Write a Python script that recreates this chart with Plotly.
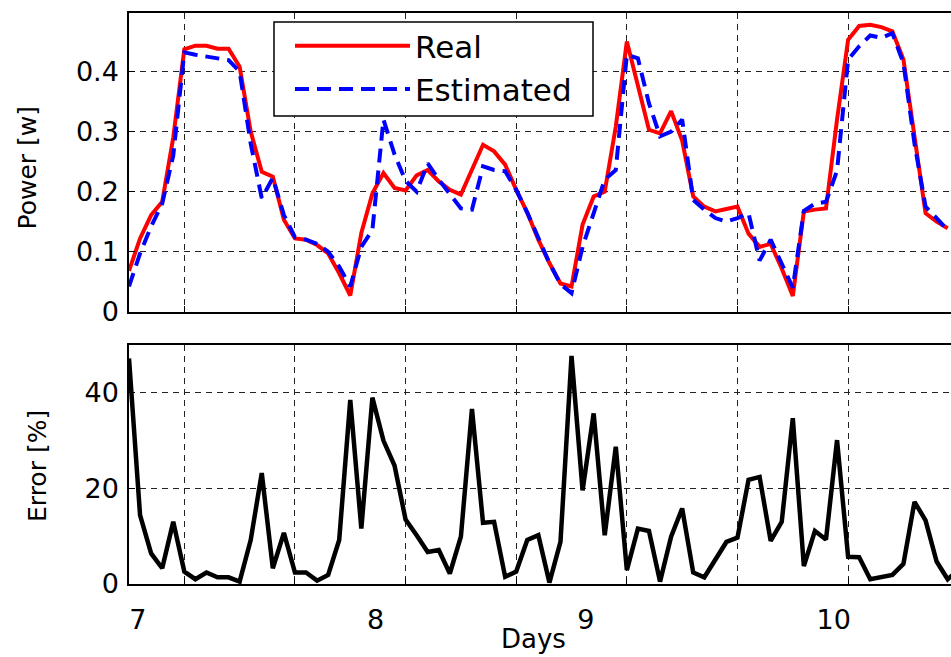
import plotly.graph_objects as go
from plotly.subplots import make_subplots

# ---- data ----
real = [0.068, 0.122, 0.161, 0.183, 0.29, 0.437, 0.443, 0.443, 0.438, 0.438,
        0.408, 0.30, 0.233, 0.225, 0.153, 0.122, 0.12, 0.111, 0.097, 0.064,
        0.027, 0.131, 0.197, 0.231, 0.206, 0.202, 0.227, 0.236, 0.217, 0.203,
        0.195, 0.238, 0.278, 0.267, 0.245, 0.203, 0.165, 0.12, 0.081, 0.047,
        0.042, 0.145, 0.192, 0.2, 0.308, 0.45, 0.375, 0.303, 0.297, 0.334,
        0.285, 0.192, 0.175, 0.167, 0.171, 0.175, 0.13, 0.108, 0.113, 0.072,
        0.026, 0.167, 0.17, 0.172, 0.32, 0.453, 0.476, 0.478, 0.474, 0.467,
        0.42, 0.292, 0.164, 0.15, 0.139]

estimated = [0.042, 0.097, 0.142, 0.18, 0.26, 0.432, 0.428, 0.425, 0.422, 0.419,
             0.40, 0.28, 0.189, 0.223, 0.161, 0.124, 0.12, 0.113, 0.1, 0.075,
             0.042, 0.108, 0.136, 0.32, 0.262, 0.218, 0.20, 0.247, 0.22, 0.195,
             0.172, 0.17, 0.242, 0.236, 0.234, 0.203, 0.165, 0.123, 0.081, 0.046,
             0.031, 0.108, 0.164, 0.22, 0.236, 0.428, 0.422, 0.347, 0.292, 0.30,
             0.32, 0.186, 0.17, 0.156, 0.15, 0.156, 0.164, 0.085, 0.12, 0.08,
             0.04, 0.168, 0.18, 0.183, 0.235, 0.42, 0.442, 0.46, 0.456, 0.464,
             0.414, 0.28, 0.175, 0.156, 0.136]

error_pct = [47.2, 14.4, 6.4, 3.3, 13.0, 2.6, 1.0, 2.4, 1.4, 1.4,
             0.5, 9.2, 23.2, 3.3, 10.7, 2.4, 2.4, 0.7, 1.9, 9.2,
             38.5, 11.6, 39.0, 30.0, 24.8, 13.5, 10.2, 6.7, 7.1, 2.2,
             9.9, 36.6, 12.8, 13.0, 1.5, 2.6, 9.2, 10.2, 0.3, 8.8,
             47.7, 19.6, 35.7, 10.2, 28.7, 2.9, 11.6, 11.1, 0.5, 9.9,
             15.8, 2.4, 1.4, 5.3, 8.8, 9.7, 21.8, 22.4, 9.0, 13.0,
             34.7, 3.75, 11.1, 9.3, 30.1, 5.7, 5.6, 1.0, 1.4, 1.9,
             4.2, 17.2, 13.3, 4.7, 1.0, 3.0]

power_samples = list(range(len(real)))
error_samples = list(range(len(error_pct)))

day_tick_pos = [0.8, 22.3, 41.3, 63.7]
day_tick_text = ["7", "8", "9", "10"]
power_ticks = [0, 0.1, 0.2, 0.3, 0.4]
power_tick_text = ["0", "0.1", "0.2", "0.3", "0.4"]
error_ticks = [0, 20, 40]

FONT = "DejaVu Sans"
W, H = 951, 657
L = 129
PW = W - L


def px_x(p):
    return (p - L) / PW


def px_y(p):
    return 1 - p / H


fig = make_subplots(rows=2, cols=1, shared_xaxes=False, vertical_spacing=0.05)

fig.add_trace(go.Scatter(x=power_samples, y=real, mode="lines", name="Real",
                         line=dict(color="#ff0000", width=4)), row=1, col=1)
fig.add_trace(go.Scatter(x=power_samples, y=estimated, mode="lines", name="Estimated",
                         line=dict(color="#0000ff", width=4, dash="14px,8px")), row=1, col=1)
fig.add_trace(go.Scatter(x=error_samples, y=error_pct, mode="lines", name="Error",
                         showlegend=False,
                         line=dict(color="#000000", width=4.5)), row=2, col=1)

xrange = [0, 74.3]
common_x = dict(range=xrange, showline=True, linecolor="black", linewidth=1.5,
                mirror=True, showgrid=False, zeroline=False, automargin=False,
                tickmode="array", tickvals=day_tick_pos, ticktext=day_tick_text,
                ticks="",
                minor=dict(tick0=5, dtick=10, showgrid=True, gridcolor="#222222",
                           griddash="6px,5px", gridwidth=1,
                           ticks="inside", ticklen=6, tickcolor="black"))

fig.update_xaxes(**common_x, showticklabels=False, row=1, col=1)
fig.update_xaxes(**common_x, showticklabels=True,
                 tickfont=dict(family=FONT, size=27, color="black"),
                 ticklabelstandoff=11, row=2, col=1)

common_y = dict(showline=True, linecolor="black", linewidth=1.5, mirror=False,
                zeroline=False, showgrid=True, gridcolor="#222222",
                griddash="6px,5px", gridwidth=1, automargin=False,
                ticks="inside", ticklen=6, tickcolor="black",
                tickfont=dict(family=FONT, size=27, color="black"),
                ticklabelstandoff=3)

fig.update_yaxes(**common_y, range=[0, 0.497], tickmode="array",
                 tickvals=power_ticks, ticktext=power_tick_text, row=1, col=1)
fig.update_yaxes(**common_y, range=[0, 50], tickmode="array",
                 tickvals=error_ticks, row=2, col=1)

fig.update_layout(
    yaxis=dict(domain=[px_y(311.7), px_y(13.3)]),
    yaxis2=dict(domain=[px_y(584), px_y(345)]),
)

fig.update_layout(
    width=W, height=H,
    margin=dict(l=L, r=0, t=0, b=0, autoexpand=False),
    plot_bgcolor="white", paper_bgcolor="white",
    font=dict(family=FONT, color="black"),
    legend=dict(x=px_x(290), y=px_y(19), xanchor="left", yanchor="top",
                bgcolor="rgba(0,0,0,0)", borderwidth=0,
                font=dict(family=FONT, size=31, color="black"),
                itemwidth=115, tracegroupgap=0),
    shapes=[
        dict(type="rect", xref="paper", yref="paper", layer="above",
             x0=px_x(274), x1=px_x(593), y0=px_y(116), y1=px_y(22),
             fillcolor="white", line=dict(color="black", width=1.5)),
    ],
    annotations=[
        dict(text="Power [w]", xref="paper", yref="paper",
             x=px_x(27), y=px_y(167.5), textangle=-90,
             showarrow=False, font=dict(family=FONT, size=25, color="black"),
             xanchor="center", yanchor="middle"),
        dict(text="Error [%]", xref="paper", yref="paper",
             x=px_x(37), y=px_y(466), textangle=-90,
             showarrow=False, font=dict(family=FONT, size=25, color="black"),
             xanchor="center", yanchor="middle"),
        dict(text="Days", xref="paper", yref="paper",
             x=px_x(533), y=px_y(639),
             showarrow=False, font=dict(family=FONT, size=26, color="black"),
             xanchor="center", yanchor="middle"),
    ],
)

fig.write_html("out.html")
